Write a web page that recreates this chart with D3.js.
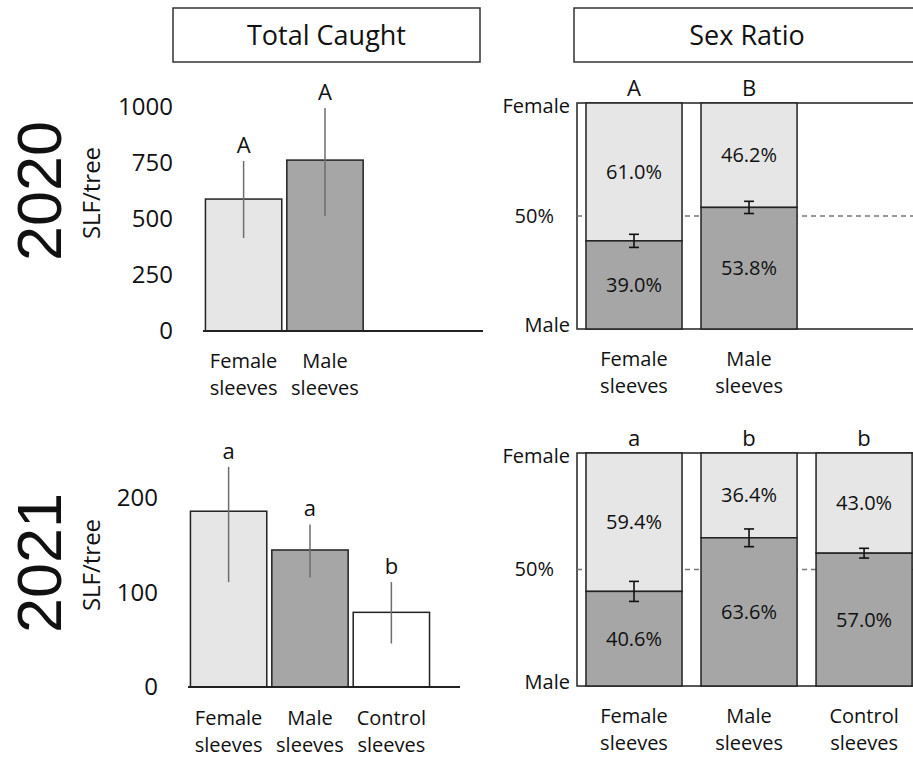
<!DOCTYPE html>
<html>
<head>
<meta charset="utf-8">
<script src="https://cdn.jsdelivr.net/npm/d3@7"></script>
<style>
  body { margin: 0; background: #fff; }
  svg { font-family: "Open Sans", "Noto Sans", sans-serif; }
</style>
</head>
<body>
<svg id="chart" width="913" height="760"></svg>
<script>
// ---- data ----
const categories = ["Female sleeves", "Male sleeves", "Control sleeves"];

const total2020     = [589, 763];
const total2020Lo   = [415, 513];
const total2020Hi   = [759, 995];
const total2020Let  = ["A", "A"];

const total2021     = [186, 145, 79];
const total2021Lo   = [111, 116, 46];
const total2021Hi   = [233, 172, 111];
const total2021Let  = ["a", "a", "b"];

const male2020      = [39.0, 53.8];
const female2020    = [61.0, 46.2];
const err2020       = [2.9, 2.7];
const ratio2020Let  = ["A", "B"];

const male2021      = [40.6, 63.6, 57.0];
const female2021    = [59.4, 36.4, 43.0];
const err2021       = [4.3, 3.8, 2.1];
const ratio2021Let  = ["a", "b", "b"];

const fills = ["#e6e6e6", "#a6a6a6", "#ffffff"];
const LIGHT = "#e6e6e6", DARK = "#a6a6a6", INK = "#222";

const svg = d3.select("#chart");

// panel titles
function titleBox(x0, x1, label) {
  svg.append("rect").attr("x", x0).attr("y", 8).attr("width", x1 - x0).attr("height", 54)
    .attr("fill", "#fff").attr("stroke", "#333").attr("stroke-width", 1.5);
  svg.append("text").attr("x", (x0 + x1) / 2).attr("y", 45).attr("text-anchor", "middle")
    .attr("font-size", 27).attr("fill", "#111").text(label);
}
titleBox(173, 480, "Total Caught");
titleBox(574, 920, "Sex Ratio");

// year + y label
function yearLabel(cy, year) {
  svg.append("text").attr("transform", `translate(61,${cy}) rotate(-90)`)
    .attr("text-anchor", "middle").attr("font-size", 63).attr("fill", "#111")
    .attr("font-family", "Liberation Sans, Arial, sans-serif").text(year);
  svg.append("text").attr("transform", `translate(100,${cy + 2}) rotate(-90)`)
    .attr("text-anchor", "middle").attr("font-size", 24).attr("fill", "#111").text("SLF/tree");
}
yearLabel(191, "2020");
yearLabel(563, "2021");

function catLabels(g, x, baseY) {
  const t = g.selectAll("text.cat").data(categories.slice(0, x.n)).join("text")
    .attr("class", "cat")
    .attr("text-anchor", "middle")
    .attr("font-size", 20).attr("fill", "#111");
  t.each(function (d, i) {
    const parts = d.split(" ");
    const cx = x(d) + x.bandwidth() / 2;
    d3.select(this).selectAll("tspan").data(parts).join("tspan")
      .attr("x", cx).attr("y", (p, j) => baseY + j * 27).text(p => p);
  });
}

// ---- Total caught panel ----
function totalPanel(opts) {
  const { vals, lo, hi, lets, x0, base, yTop, domainMax, ticks, axisEnd, catY } = opts;
  const g = svg.append("g");
  const x = d3.scaleBand().domain(categories).range([x0, x0 + 81 * 3.012])
    .paddingInner(0.062).paddingOuter(0.03);
  x.n = vals.length;
  const y = d3.scaleLinear().domain([0, domainMax]).range([base, yTop]);

  const ax = g.append("g").attr("transform", `translate(${x0},0)`)
    .call(d3.axisLeft(y).tickValues(ticks).tickSize(0).tickPadding(30).tickFormat(d3.format("d")));
  ax.select(".domain").remove();
  ax.selectAll("text").attr("font-size", 24).attr("fill", "#111")
    .attr("font-family", "Open Sans, Noto Sans, sans-serif");

  const data = vals.map((v, i) => ({ c: categories[i], v, lo: lo[i], hi: hi[i], l: lets[i], f: fills[i] }));

  g.selectAll("rect.bar").data(data).join("rect").attr("class", "bar")
    .attr("x", d => x(d.c)).attr("width", x.bandwidth())
    .attr("y", d => y(d.v)).attr("height", d => y(0) - y(d.v))
    .attr("fill", d => d.f).attr("stroke", INK).attr("stroke-width", 1.5);

  g.append("line").attr("x1", x0).attr("x2", axisEnd).attr("y1", y(0)).attr("y2", y(0))
    .attr("stroke", INK).attr("stroke-width", 1.8);

  g.selectAll("line.err").data(data).join("line").attr("class", "err")
    .attr("x1", d => x(d.c) + x.bandwidth() / 2).attr("x2", d => x(d.c) + x.bandwidth() / 2)
    .attr("y1", d => y(d.lo)).attr("y2", d => y(d.hi))
    .attr("stroke", "#6e6e6e").attr("stroke-width", 1.5);

  g.selectAll("text.let").data(data).join("text").attr("class", "let")
    .attr("x", d => x(d.c) + x.bandwidth() / 2).attr("y", d => y(d.hi) - 8)
    .attr("text-anchor", "middle").attr("font-size", 22).attr("fill", "#111").text(d => d.l);

  catLabels(g, x, catY);
}

totalPanel({ vals: total2020, lo: total2020Lo, hi: total2020Hi, lets: total2020Let,
  x0: 203, base: 331, yTop: 107, domainMax: 1000, ticks: [0, 250, 500, 750, 1000],
  axisEnd: 483, catY: 368 });
totalPanel({ vals: total2021, lo: total2021Lo, hi: total2021Hi, lets: total2021Let,
  x0: 188, base: 687, yTop: 498, domainMax: 200, ticks: [0, 100, 200],
  axisEnd: 460, catY: 725 });

// ---- Sex ratio panel ----
function ratioPanel(opts) {
  const { male, female, err, lets, top, bottom, catY } = opts;
  const g = svg.append("g");
  const x0 = 577;
  const x = d3.scaleBand().domain(categories).range([x0, x0 + 115 * 2.992])
    .paddingInner(0.165).paddingOuter(0.078);
  x.n = male.length;
  const y = d3.scaleLinear().domain([0, 100]).range([bottom, top]);

  // frame
  g.append("rect").attr("x", x0).attr("y", y(100)).attr("width", 360).attr("height", y(0) - y(100))
    .attr("fill", "#fff").attr("stroke", INK).attr("stroke-width", 1.5);

  // 50% reference
  g.append("line").attr("x1", x0).attr("x2", 913).attr("y1", y(50)).attr("y2", y(50))
    .attr("stroke", "#777").attr("stroke-width", 1.3).attr("stroke-dasharray", "5,4");

  const ax = g.append("g").attr("transform", `translate(${x0},0)`)
    .call(d3.axisLeft(y).tickValues([0, 50, 100]).tickSize(0).tickPadding(7)
      .tickFormat(d => d === 0 ? "Male" : d === 100 ? "Female" : "50%"));
  ax.select(".domain").remove();
  ax.selectAll("text").attr("font-size", 20).attr("fill", "#111")
    .attr("font-family", "Open Sans, Noto Sans, sans-serif");
  ax.selectAll(".tick").filter(d => d === 50).select("text").attr("x", -23);
  ax.selectAll(".tick").filter(d => d === 100).select("text").attr("dy", "0.45em");
  ax.selectAll(".tick").filter(d => d === 0).select("text").attr("dy", "0.1em");

  const data = male.map((m, i) => ({ c: categories[i], m, f: female[i], e: err[i], l: lets[i] }));

  g.selectAll("rect.fem").data(data).join("rect").attr("class", "fem")
    .attr("x", d => x(d.c)).attr("width", x.bandwidth())
    .attr("y", y(100)).attr("height", d => y(d.m) - y(100))
    .attr("fill", LIGHT).attr("stroke", INK).attr("stroke-width", 1.5);
  g.selectAll("rect.mal").data(data).join("rect").attr("class", "mal")
    .attr("x", d => x(d.c)).attr("width", x.bandwidth())
    .attr("y", d => y(d.m)).attr("height", d => y(0) - y(d.m))
    .attr("fill", DARK).attr("stroke", INK).attr("stroke-width", 1.5);

  // error bars with caps
  const cx = d => x(d.c) + x.bandwidth() / 2;
  const eb = g.selectAll("g.eb").data(data).join("g").attr("class", "eb")
    .attr("stroke", "#111").attr("stroke-width", 1.6);
  eb.append("line").attr("x1", cx).attr("x2", cx).attr("y1", d => y(d.m - d.e)).attr("y2", d => y(d.m + d.e));
  eb.append("line").attr("x1", d => cx(d) - 5).attr("x2", d => cx(d) + 5).attr("y1", d => y(d.m - d.e)).attr("y2", d => y(d.m - d.e));
  eb.append("line").attr("x1", d => cx(d) - 5).attr("x2", d => cx(d) + 5).attr("y1", d => y(d.m + d.e)).attr("y2", d => y(d.m + d.e));

  g.selectAll("text.fp").data(data).join("text").attr("class", "fp")
    .attr("x", cx).attr("y", d => (y(100) + y(d.m)) / 2).attr("dy", "0.35em")
    .attr("text-anchor", "middle").attr("font-size", 20).attr("fill", "#111")
    .text(d => d.f.toFixed(1) + "%");
  g.selectAll("text.mp").data(data).join("text").attr("class", "mp")
    .attr("x", cx).attr("y", d => (y(0) + y(d.m)) / 2).attr("dy", "0.35em")
    .attr("text-anchor", "middle").attr("font-size", 20).attr("fill", "#111")
    .text(d => d.m.toFixed(1) + "%");

  g.selectAll("text.let").data(data).join("text").attr("class", "let")
    .attr("x", cx).attr("y", y(100) - 7)
    .attr("text-anchor", "middle").attr("font-size", 22).attr("fill", "#111").text(d => d.l);

  catLabels(g, x, catY);
}

ratioPanel({ male: male2020, female: female2020, err: err2020, lets: ratio2020Let,
  top: 103, bottom: 329, catY: 366 });
ratioPanel({ male: male2021, female: female2021, err: err2021, lets: ratio2021Let,
  top: 453, bottom: 686, catY: 723 });
</script>
</body>
</html>
